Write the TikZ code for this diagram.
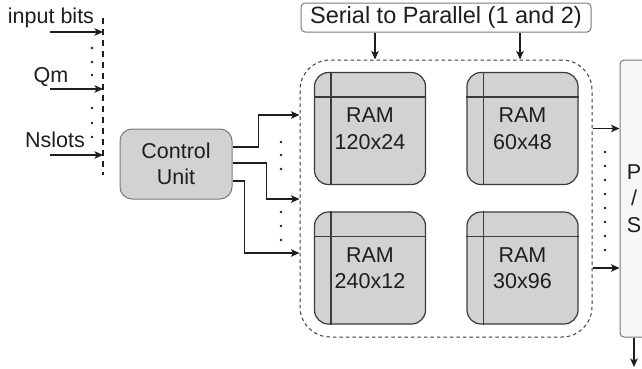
\documentclass[tikz,border=0pt]{standalone}
\usepackage{fontspec}
\setmainfont{Liberation Sans}
\usetikzlibrary{arrows.meta,calc}
\definecolor{boxgray}{HTML}{D2D2D2}
\definecolor{edgedark}{HTML}{3A3A3A}
\definecolor{edgegray}{HTML}{7A7A7A}
\definecolor{psfill}{HTML}{F7F7F7}
\definecolor{ink}{HTML}{1E1E1E}
\begin{document}
\begin{tikzpicture}[x=1pt,y=-1pt,
  every node/.style={font=\fontsize{21.5}{26.5}\selectfont, text=ink, inner sep=0pt},
  arr/.style={draw=ink, line width=1.2pt, -{Stealth[length=8.5pt,width=7.5pt,inset=2pt]}},
  ramcell/.style={draw=edgedark, line width=1.2pt, fill=boxgray, rounded corners=14pt,
    minimum width=111pt, minimum height=112pt, align=center},
  ramline/.style={draw=edgedark, line width=1.2pt},
  ctrlbox/.style={draw=edgegray, line width=1pt, fill=boxgray, rounded corners=12pt,
    minimum width=112pt, minimum height=70pt, align=center},
  labelbox/.style={draw=edgegray, line width=1pt, fill=white, rounded corners=4pt,
    minimum width=290pt, minimum height=29pt, font=\fontsize{23.5}{28}\selectfont},
  group/.style={draw=edgedark, line width=1pt, dash pattern=on 3.5pt off 3pt,
    rounded corners=30pt, minimum width=292pt, minimum height=277pt},
  convbox/.style={draw=edgegray, line width=1pt, fill=psfill, rounded corners=4pt,
    minimum width=28pt, minimum height=277pt, align=center},
  bus/.style={draw=ink, line width=2pt, dash pattern=on 6pt off 5pt},
  dot/.style={fill=ink}
]
\useasboundingbox (0,0) rectangle (642,368);
\clip (0,0) rectangle (642,368);

% ---- inputs and the shared bus ----
\coordinate (bustop) at (103,18);
\coordinate (busbot) at (103,175);
\draw[bus] (bustop) -- (busbot);

\node[anchor=base] (lbits) at (51,23) {input bits};
\node[anchor=base] (lqm) at (51,82) {Qm};
\node[anchor=base] (lns) at (55,147) {Nslots};

\coordinate (sbits) at (50,32);
\coordinate (sqm) at (50,89);
\coordinate (sns) at (50,155);
\draw[arr] (sbits) -- (sbits -| bustop);
\draw[arr] (sqm) -- (sqm -| bustop);
\draw[arr] (sns) -- (sns -| bustop);

\foreach \y in {48,62,75,108,123,137} \fill[dot] (92,\y) circle (1.4pt);

% ---- control unit ----
\node[ctrlbox] (cu) at (176,164) {Control\\Unit};

% ---- serial to parallel group ----
\node[labelbox] (ser) at (446,17.5) {Serial to Parallel (1 and 2)};
\node[group] (sp) at (446,198.5) {};

\node[ramcell] (r1) at (370,128.5) {RAM\\120x24};
\node[ramcell] (r2) at (522.5,128.5) {RAM\\60x48};
\node[ramcell] (r3) at (370,268) {RAM\\240x12};
\node[ramcell] (r4) at (522.5,268) {RAM\\30x96};
\foreach \r in {r1,r2,r3,r4}{
  \draw[ramline] ($(\r.north west)+(17,0)$) -- ($(\r.south west)+(17,0)$);
  \draw[ramline] ($(\r.north west)+(0,25)$) -- ($(\r.north east)+(0,25)$);
}

\coordinate (xa) at (375,0);
\coordinate (xb) at (520,0);
\draw[arr] (ser.south -| xa) -- (sp.north -| xa);
\draw[arr] (ser.south -| xb) -- (sp.north -| xb);

% ---- control lines into the group ----
\coordinate (y1) at (0,115);
\coordinate (y2) at (0,199);
\coordinate (y3) at (0,253);
\draw[arr] ($(cu.east)+(0,-17)$) -- ++(26,0) |- (sp.west |- y1);
\draw[arr] ($(cu.east)+(0,-1)$) -- ++(34,0) |- (sp.west |- y2);
\draw[arr] ($(cu.east)+(0,17)$) -- ++(12,0) |- (sp.west |- y3);
\foreach \y in {142,155,169,212,226,240} \fill[dot] (281,\y) circle (1.4pt);

% ---- parallel to serial ----
\node[convbox] (ps) at (634,198.5) {P\\/\\S};
\draw[arr] (sp.east |- r1) -- (ps.west |- r1);
\draw[arr] (sp.east |- r3) -- (ps.west |- r3);
\foreach \y in {152,166,180,194,208,222,236,250} \fill[dot] (605,\y) circle (1.4pt);

\coordinate (pout) at (634,367);
\draw[arr] (ps.south) -- (pout);
\end{tikzpicture}
\end{document}
